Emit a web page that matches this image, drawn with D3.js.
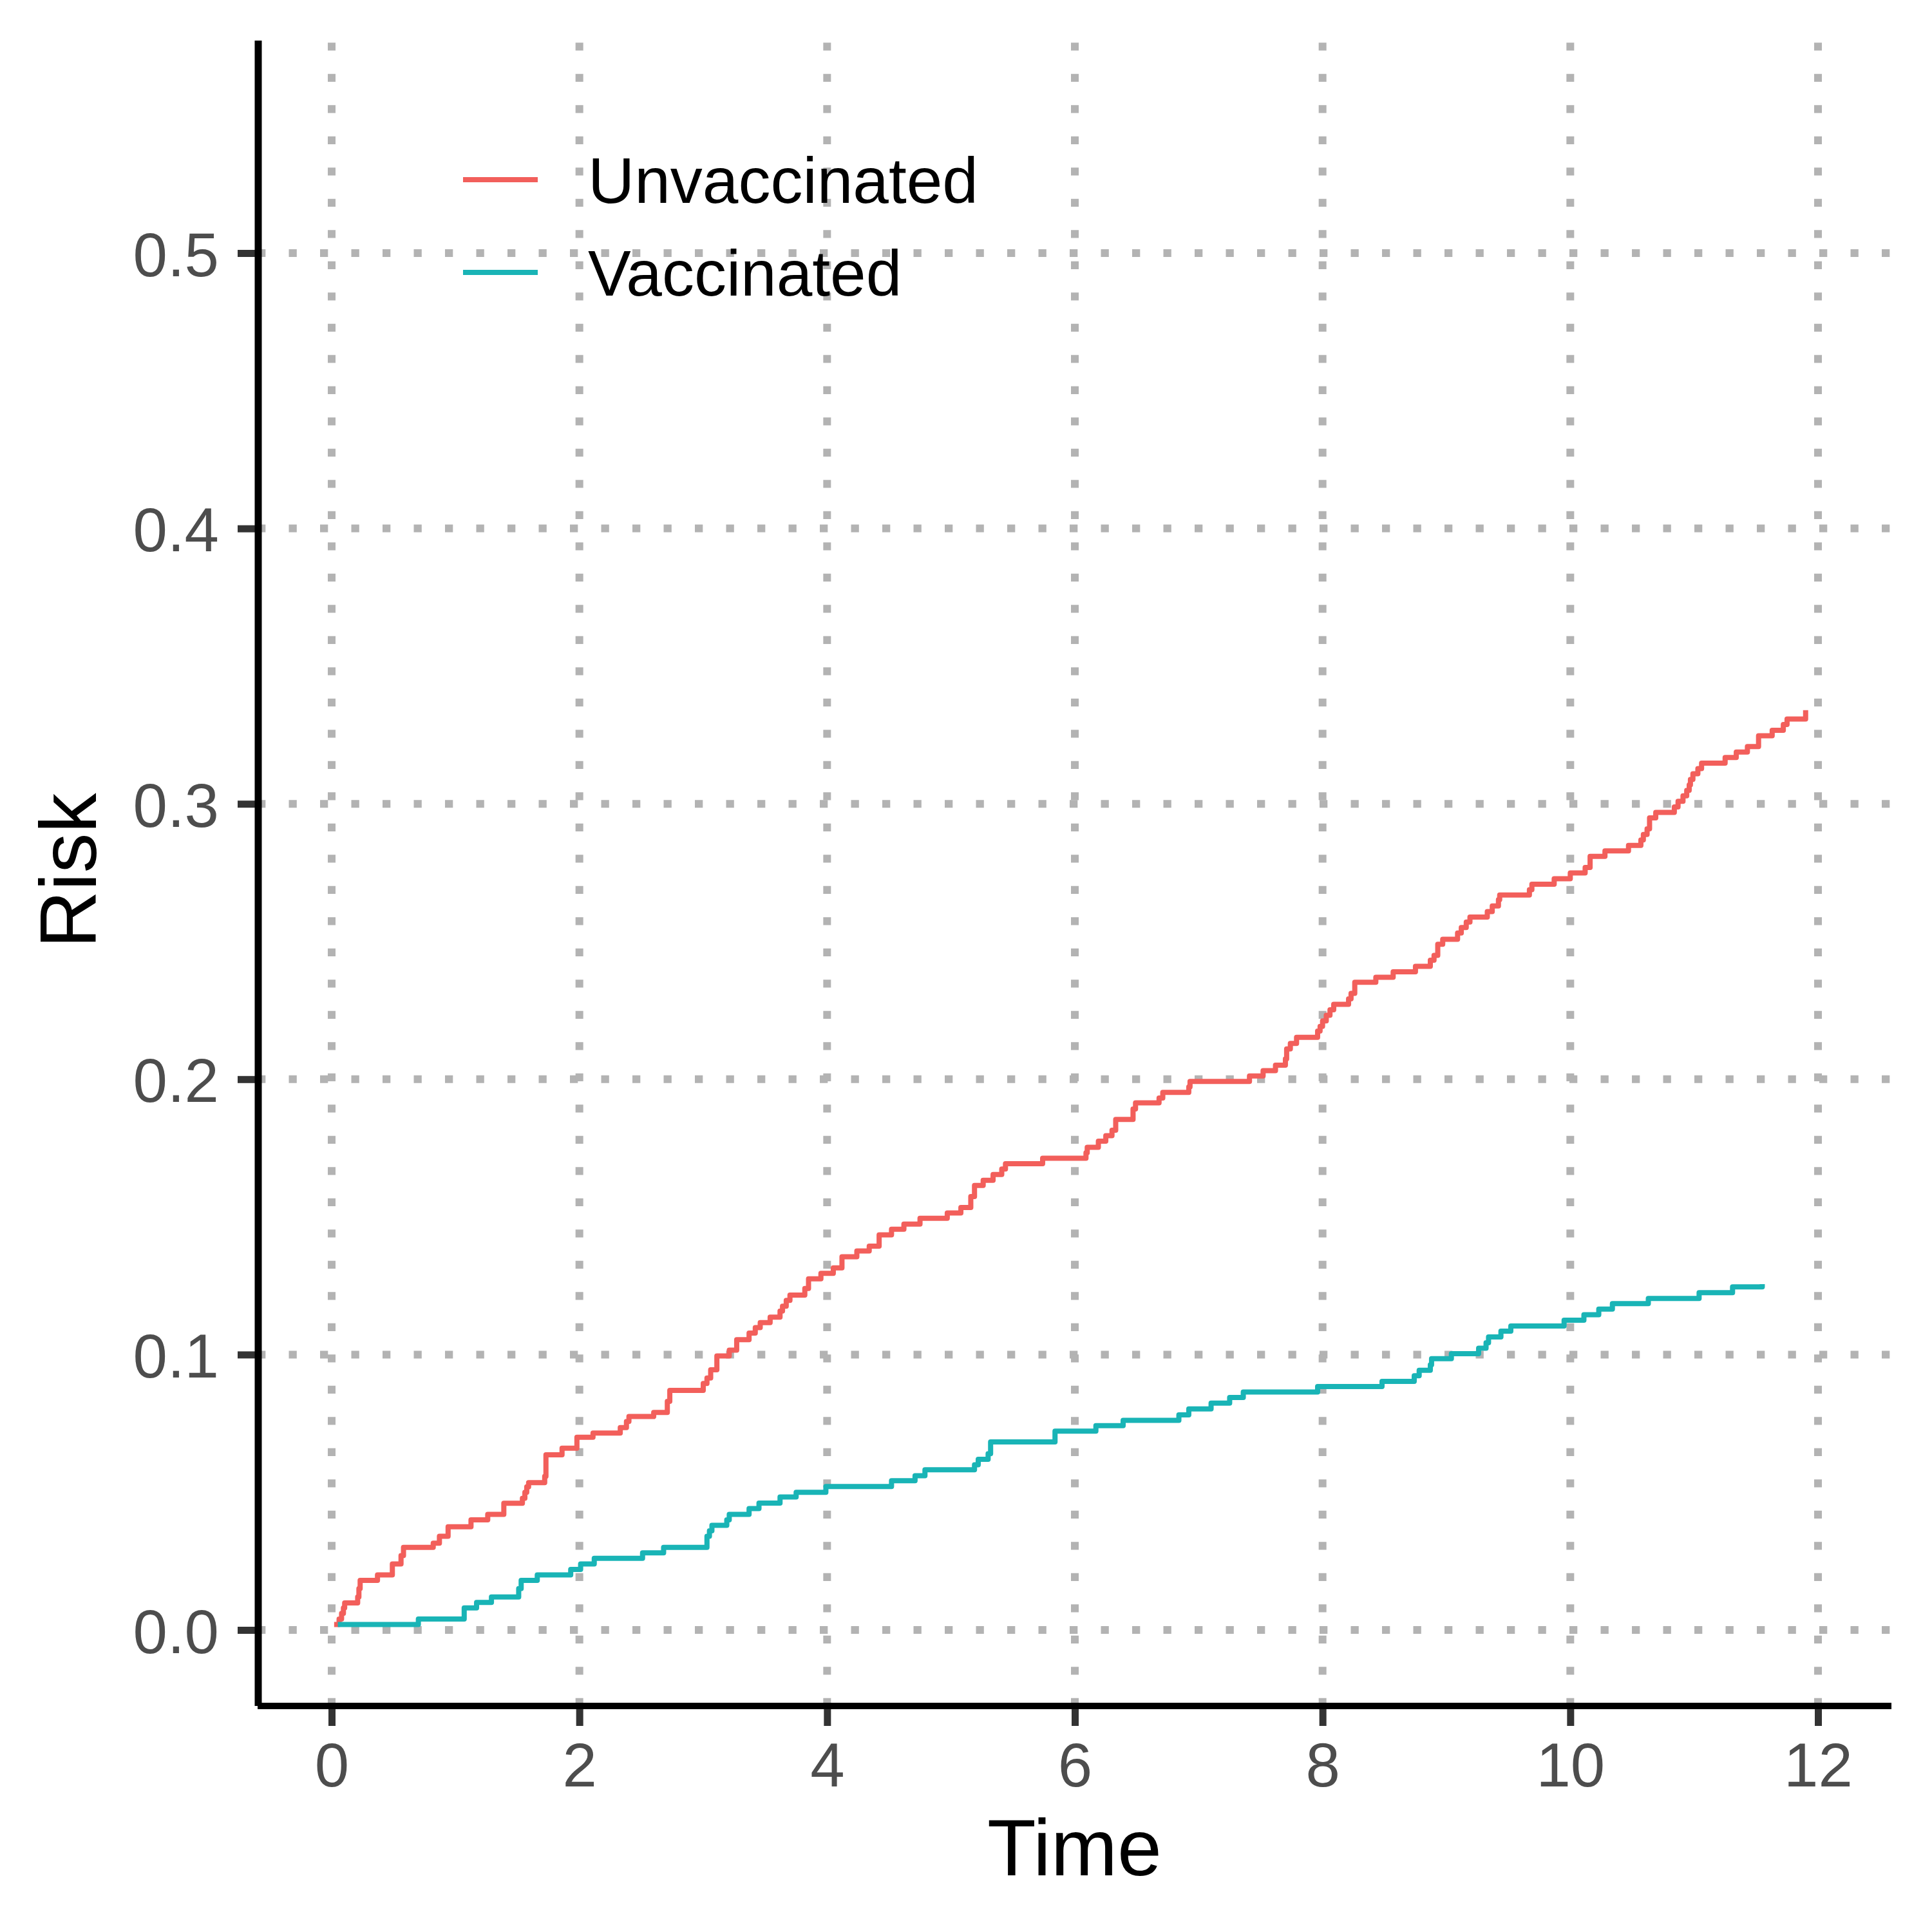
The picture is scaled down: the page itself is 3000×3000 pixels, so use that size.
<!DOCTYPE html>
<html>
<head>
<meta charset="utf-8">
<script src="https://cdn.jsdelivr.net/npm/d3@7"></script>
<style>
  body { margin: 0; background: #fff; }
  text { font-family: "Liberation Sans", Arial, sans-serif; }
</style>
</head>
<body>
<div id="canvas"></div>
<script>
"use strict";

// data: cumulative risk steps (time, risk after the step)
let unvaxTime = [0.02, 0.06, 0.08, 0.095, 0.105, 0.21, 0.22, 0.23, 0.37, 0.49, 0.56, 0.58, 0.82, 0.87, 0.94,
  1.125, 1.26, 1.39, 1.54, 1.56, 1.575, 1.59, 1.72, 1.73, 1.86, 1.98, 2.11, 2.33, 2.38, 2.40, 2.60, 2.71, 2.73,
  3.00, 3.03, 3.06, 3.11, 3.21, 3.27, 3.37, 3.42, 3.46, 3.54, 3.62, 3.64, 3.67, 3.70, 3.82, 3.85, 3.95,
  4.05, 4.12, 4.24, 4.34, 4.42, 4.52, 4.62, 4.75, 4.97, 5.08, 5.16, 5.19, 5.26, 5.34, 5.41, 5.44, 5.74,
  6.09, 6.10, 6.19, 6.25, 6.30, 6.33, 6.47, 6.49, 6.68, 6.71, 6.92, 6.93, 7.41, 7.52, 7.62, 7.70, 7.71, 7.74,
  7.79, 7.96, 7.98, 8.00, 8.03, 8.06, 8.09, 8.21, 8.23, 8.26, 8.43, 8.57, 8.75, 8.87, 8.90, 8.93, 8.97,
  9.09, 9.12, 9.16, 9.19, 9.33, 9.37, 9.42, 9.43, 9.67, 9.69, 9.87, 10.00, 10.12, 10.16, 10.28, 10.47,
  10.57, 10.59, 10.62, 10.64, 10.69, 10.84, 10.87, 10.91, 10.94, 10.96, 10.97, 10.99, 11.03, 11.06,
  11.25, 11.34, 11.43, 11.52, 11.63, 11.72, 11.75, 11.90];
let unvaxRisk = [0.002, 0.004, 0.006, 0.008, 0.0098, 0.012, 0.015, 0.018, 0.020, 0.024, 0.027, 0.030, 0.0315, 0.034, 0.0375,
  0.040, 0.042, 0.046, 0.0478, 0.050, 0.052, 0.0535, 0.0558, 0.0636, 0.066, 0.070, 0.0715, 0.0735, 0.0757, 0.0775, 0.079, 0.083, 0.087,
  0.0895, 0.0915, 0.0945, 0.0995, 0.1016, 0.1054, 0.1078, 0.1098, 0.1116, 0.1136, 0.1158, 0.1176, 0.1197, 0.1216, 0.124, 0.1275, 0.1295,
  0.1315, 0.1355, 0.1376, 0.1394, 0.1435, 0.1455, 0.1474, 0.1495, 0.1514, 0.1534, 0.1574, 0.1614, 0.1633, 0.1654, 0.1674, 0.1693, 0.1713,
  0.1733, 0.1753, 0.1775, 0.1795, 0.1815, 0.1854, 0.1892, 0.1914, 0.1932, 0.1952, 0.1972, 0.1992, 0.2012, 0.2031, 0.2051, 0.2074, 0.211, 0.213,
  0.2152, 0.2175, 0.2192, 0.2212, 0.2232, 0.2252, 0.2272, 0.2292, 0.2312, 0.2352, 0.2370, 0.2390, 0.2410, 0.2432, 0.2450, 0.2490, 0.2508,
  0.2531, 0.2551, 0.2571, 0.2589, 0.2609, 0.2629, 0.2652, 0.2669, 0.2688, 0.2708, 0.2728, 0.2749, 0.2769, 0.2809, 0.2829, 0.2849,
  0.2869, 0.2889, 0.2909, 0.2949, 0.2969, 0.2989, 0.3009, 0.3029, 0.3049, 0.3069, 0.3089, 0.3109, 0.3128, 0.3148,
  0.3168, 0.3188, 0.3208, 0.3247, 0.3267, 0.3288, 0.3308, 0.334];

let vaxTime = [0.05, 0.70, 1.07, 1.17, 1.29, 1.51, 1.53, 1.66, 1.93, 2.01, 2.12, 2.51, 2.68, 3.03, 3.05, 3.07, 3.19, 3.21,
  3.37, 3.45, 3.62, 3.75, 3.99, 4.52, 4.71, 4.79, 5.19, 5.22, 5.30, 5.32, 5.84, 6.17, 6.39, 6.84, 6.92,
  7.10, 7.25, 7.36, 7.96, 8.48, 8.74, 8.78, 8.87, 8.88, 9.04, 9.26, 9.32, 9.34, 9.44, 9.52, 9.95,
  10.11, 10.23, 10.34, 10.63, 11.04, 11.31, 11.55];
let vaxRisk = [0.002, 0.004, 0.008, 0.010, 0.012, 0.015, 0.018, 0.020, 0.022, 0.024, 0.026, 0.028, 0.030, 0.034, 0.036, 0.038, 0.040, 0.042,
  0.0441, 0.0461, 0.0483, 0.050, 0.0521, 0.0542, 0.056, 0.0582, 0.060, 0.062, 0.064, 0.0683, 0.0722, 0.0742, 0.0761, 0.0781, 0.0803,
  0.0824, 0.0844, 0.0864, 0.0884, 0.0903, 0.0923, 0.0943, 0.0963, 0.0985, 0.1003, 0.1023, 0.1043, 0.1064, 0.1085, 0.1104, 0.1125,
  0.1145, 0.1165, 0.1185, 0.1204, 0.1225, 0.1246, 0.1256];

let seriesNames = ["Unvaccinated", "Vaccinated"];
let seriesColors = ["#F25F5B", "#19B4B6"];
let xTicks = [0, 2, 4, 6, 8, 10, 12];
let yTicks = [0, 0.1, 0.2, 0.3, 0.4, 0.5];

let svgWidth = 3000;
let svgHeight = 3000;

// panel edges (pixels)
let panelLeft = 400, panelRight = 2937, panelTop = 63, panelBottom = 2649;

let svg = d3.select("#canvas")
  .append("svg")
  .attr("width", svgWidth)
  .attr("height", svgHeight);

let xScale = d3.scaleLinear().domain([0, 12]).range([515, 2823]);
let yScale = d3.scaleLinear().domain([0, 0.5]).range([2531, 393]);

/* dotted grid */
let grid = svg.append("g")
  .attr("stroke", "#B3B3B3")
  .attr("stroke-width", 12)
  .attr("stroke-dasharray", "12.3,36.2");

grid.selectAll("line.h")
  .data(yTicks)
  .enter()
  .append("line")
  .attr("x1", panelLeft)
  .attr("x2", panelRight)
  .attr("y1", d => yScale(d))
  .attr("y2", d => yScale(d));

// vertical grid drawn upward from the bottom edge, like R does
grid.selectAll("line.v")
  .data(xTicks)
  .enter()
  .append("line")
  .attr("x1", d => xScale(d))
  .attr("x2", d => xScale(d))
  .attr("y1", panelBottom)
  .attr("y2", panelTop);

/* step lines */
let series = [
  { name: seriesNames[0], color: seriesColors[0], pts: d3.zip(unvaxTime, unvaxRisk) },
  { name: seriesNames[1], color: seriesColors[1], pts: d3.zip(vaxTime, vaxRisk) }
];

let line = d3.line()
  .x(d => xScale(d[0]))
  .y(d => yScale(d[1]))
  .curve(d3.curveStepAfter);

svg.selectAll("path.risk")
  .data(series)
  .enter()
  .append("path")
  .attr("class", "risk")
  .attr("fill", "none")
  .attr("stroke", d => d.color)
  .attr("stroke-width", 8)
  .attr("stroke-linejoin", "round")
  .attr("d", d => line(d.pts));

/* axes */
let xAxis = svg.append("g")
  .attr("transform", "translate(0," + panelBottom + ")")
  .call(d3.axisBottom(xScale).tickValues(xTicks).tickSize(31).tickFormat(d3.format("d")));
xAxis.select(".domain").remove();
xAxis.selectAll(".tick line").attr("stroke", "#333333").attr("stroke-width", 11);
xAxis.selectAll(".tick text")
  .attr("y", 125)
  .attr("dy", null)
  .attr("fill", "#4D4D4D")
  .style("font-size", "96px")
  .style("font-family", "'Liberation Sans', Arial, sans-serif");

let yAxis = svg.append("g")
  .attr("transform", "translate(" + panelLeft + ",0)")
  .call(d3.axisLeft(yScale).tickValues(yTicks).tickSize(31).tickFormat(d3.format(".1f")));
yAxis.select(".domain").remove();
yAxis.selectAll(".tick line").attr("stroke", "#333333").attr("stroke-width", 11);
yAxis.selectAll(".tick text")
  .attr("x", -60)
  .attr("dy", "0.365em")
  .attr("fill", "#4D4D4D")
  .style("font-size", "96px")
  .style("font-family", "'Liberation Sans', Arial, sans-serif");

// axis lines
svg.append("line")
  .attr("x1", 401).attr("x2", 401)
  .attr("y1", panelTop).attr("y2", panelBottom)
  .attr("stroke", "black").attr("stroke-width", 11);
svg.append("line")
  .attr("x1", panelLeft).attr("x2", panelRight)
  .attr("y1", panelBottom).attr("y2", panelBottom)
  .attr("stroke", "black").attr("stroke-width", 10);

// axis titles
svg.append("text")
  .attr("x", (panelLeft + panelRight) / 2)
  .attr("y", 2912)
  .attr("text-anchor", "middle")
  .style("font-size", "124px")
  .text("Time");

svg.append("text")
  .attr("transform", "rotate(-90)")
  .attr("x", -1352)
  .attr("y", 149)
  .attr("text-anchor", "middle")
  .style("font-size", "124px")
  .text("Risk");

/* legend */
let legendY = [279, 423];
for (let i = 0; i < series.length; i++) {
  svg.append("line")
    .attr("x1", 719).attr("x2", 835)
    .attr("y1", legendY[i]).attr("y2", legendY[i])
    .attr("stroke", series[i].color)
    .attr("stroke-width", 8);
  svg.append("text")
    .attr("x", 913)
    .attr("y", legendY[i] + 36)
    .style("font-size", "100px")
    .text(series[i].name);
}
</script>
</body>
</html>
